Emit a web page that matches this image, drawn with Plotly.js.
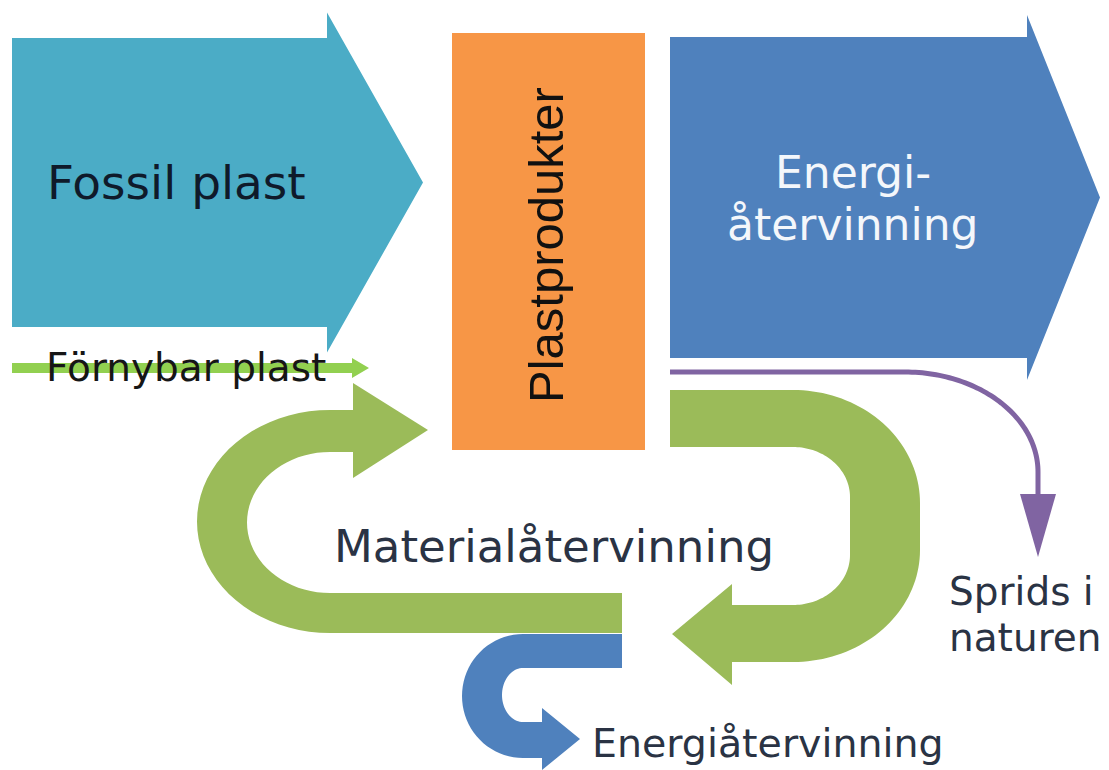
<!DOCTYPE html>
<html>
<head>
<meta charset="utf-8">
<script src="https://cdn.plot.ly/plotly-3.0.1.min.js"></script>
<style>html,body{margin:0;padding:0;background:#fff;}#chart{width:1109px;height:770px;}</style>
</head>
<body>
<div id="chart"></div>
<script>
// ---- content (labels) ----
const nodeLabels = ["Fossil plast", "Förnybar plast", "Plastprodukter", "Energi-", "återvinning",
                    "Materialåtervinning", "Sprids i", "naturen", "Energiåtervinning"];
const flowNames  = ["Fossil plast", "Förnybar plast", "Energiåtervinning", "Materialåtervinning",
                    "Materialåtervinning (retur)", "Energiåtervinning (rest)", "Sprids i naturen"];
const flowValues = [289, 10, 321, 57, 41, 35, 5];

// ---- geometry helpers (pixel-like data space) ----
function arc(cx, cy, rx, ry, a0, a1, n) {
  const pts = [];
  n = n || 40;
  for (let i = 0; i <= n; i++) {
    const a = (a0 + (a1 - a0) * i / n) * Math.PI / 180;
    pts.push([cx + rx * Math.cos(a), cy + ry * Math.sin(a)]);
  }
  return pts;
}
function straightArrow(x0, headX, yMid, thick, headHalf, tipX) {
  const t = thick / 2;
  return [[x0, yMid - t], [headX, yMid - t], [headX, yMid - headHalf], [tipX, yMid],
          [headX, yMid + headHalf], [headX, yMid + t], [x0, yMid + t]];
}
function poly(pts, color) {
  const xs = pts.map(p => p[0]), ys = pts.map(p => p[1]);
  xs.push(pts[0][0]); ys.push(pts[0][1]);
  return {type: "scatter", mode: "lines", x: xs, y: ys, fill: "toself", fillcolor: color,
          line: {width: 0, color: color, simplify: false}, hoverinfo: "skip"};
}

const C = {fossil: "#4BACC6", energy: "#4F81BD", product: "#F79646", green: "#9BBB59",
           renew: "#92D050", purple: "#8064A2", text: "#2A3344"};

const traces = [];
// Fossil plast arrow
traces.push(poly(straightArrow(12, 327, 182.5, flowValues[0], 170, 423), C.fossil));
// Energiåtervinning (big) arrow
traces.push(poly(straightArrow(670, 1027, 197.5, flowValues[2], 182.5, 1100), C.energy));
// Plastprodukter box
traces.push(poly([[452, 33], [645, 33], [645, 450], [452, 450]], C.product));
// Förnybar plast thin arrow
traces.push(poly(straightArrow(12, 352, 368, flowValues[1], 10, 369), C.renew));

// Right green U-turn (out of products, back to the left)
(function () {
  const w = flowValues[3];
  const top = 390, inTop = top + w, right = 920, inRight = 850;
  const bot = 662, inBot = bot - w, cx = 793;
  let pts = [[670, top], [cx, top]];
  pts = pts.concat(arc(cx, 503, right - cx, 503 - top, -90, 0));
  pts = pts.concat(arc(cx, 550, right - cx, bot - 550, 0, 90));
  pts.push([732, bot], [732, 685], [672, 634], [732, 584], [732, inBot]);
  pts = pts.concat(arc(cx, 555, inRight - cx, inBot - 555, 90, 0));
  pts = pts.concat(arc(cx, 497, inRight - cx, 497 - inTop, 0, -90));
  pts.push([670, inTop]);
  traces.push(poly(pts, C.green));
})();

// Left green U-turn (Materialåtervinning back into products)
(function () {
  const w = flowValues[4];
  const top = 410, inTop = 452, bot = 633, inBot = bot - (w - 1);
  const cx = 330;
  let pts = [[622, bot], [cx, bot]];
  pts = pts.concat(arc(cx, (top + bot) / 2, cx - 197, (bot - top) / 2, 90, 270));
  pts.push([353, top], [353, 383], [428, 430], [353, 478], [353, inTop], [cx, inTop]);
  pts = pts.concat(arc(cx, (inTop + inBot) / 2, cx - 247, (inBot - inTop) / 2, 270, 90));
  pts.push([622, inBot]);
  traces.push(poly(pts, C.green));
})();

// Small blue U-turn (lower Energiåtervinning)
(function () {
  const w = flowValues[5];
  const top = 634, inTop = top + 34, bot = 758, inBot = 722, cx = 523;
  let pts = [[622, top], [cx, top]];
  pts = pts.concat(arc(cx, (top + bot) / 2, cx - 462, (bot - top) / 2, 270, 90));
  pts.push([542, bot], [542, 770], [580, 739], [542, 708], [542, inBot], [cx, inBot]);
  pts = pts.concat(arc(cx, (inTop + inBot) / 2, cx - 502, (inBot - inTop) / 2, 90, 270));
  pts.push([622, inTop]);
  traces.push(poly(pts, C.energy));
})();

// Purple thin flow (Sprids i naturen)
(function () {
  let pts = [[670, 372], [905, 372]];
  pts = pts.concat(arc(905, 472, 133, 100, -90, 0, 60));
  pts.push([1038, 498]);
  traces.push({type: "scatter", mode: "lines", x: pts.map(p => p[0]), y: pts.map(p => p[1]),
               line: {color: C.purple, width: flowValues[6], simplify: false}, hoverinfo: "skip"});
  traces.push(poly([[1020, 494], [1056, 494], [1038, 557]], C.purple));
})();

// ---- labels ----
const F = "DejaVu Sans, Liberation Sans, Arial, sans-serif";
function label(text, x, y, size, color, extra) {
  return Object.assign({text: text, x: x, y: y, xref: "x", yref: "y", showarrow: false,
    xanchor: "center", yanchor: "middle", font: {family: F, size: size, color: color}}, extra || {});
}
const annotations = [
  label(nodeLabels[0], 176, 182, 47, "#0F1A2A"),
  label(nodeLabels[1], 186, 367, 39, "#161616"),
  label(nodeLabels[2], 546, 245, 49, "#111111",
        {textangle: -90, font: {family: "Liberation Sans, Arial, sans-serif", size: 49, color: "#111111"}}),
  label(nodeLabels[3], 853, 172, 44, "#F4F7FB"),
  label(nodeLabels[4], 852, 224, 44, "#F4F7FB"),
  label(nodeLabels[5], 554, 546, 45, C.text),
  label(nodeLabels[6], 947, 591, 39, C.text, {xanchor: "left"}),
  label(nodeLabels[7], 947, 637, 39, C.text, {xanchor: "left"}),
  label(nodeLabels[8], 768, 743, 39.5, C.text)
];

const layout = {
  width: 1109, height: 770,
  margin: {l: 0, r: 0, t: 0, b: 0, pad: 0},
  paper_bgcolor: "#ffffff", plot_bgcolor: "#ffffff",
  showlegend: false,
  xaxis: {range: [0, 1109], visible: false, fixedrange: true},
  yaxis: {range: [770, 0], visible: false, fixedrange: true},
  annotations: annotations
};
Plotly.newPlot("chart", traces, layout, {staticPlot: true, displayModeBar: false});
</script>
</body>
</html>
